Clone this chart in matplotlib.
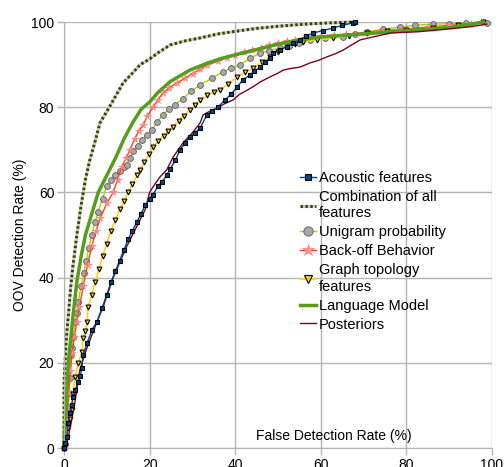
import matplotlib as mpl
mpl.use('Agg')
import matplotlib.pyplot as plt

plt.rcParams['font.family'] = ['Liberation Sans', 'DejaVu Sans']
FONTSIZE = 10

# Data
acoustic_x = [0, 0.3, 0.7, 1.0, 1.4, 1.8, 2.1, 2.6, 3.3, 3.8, 4.2, 4.4, 5.4, 6.5, 7.7, 8.9, 10, 11, 12, 13,
              14, 15, 16, 17, 18, 19, 20, 20.8, 22, 22.9, 24, 24.8, 26, 27.1, 28.2, 29.4, 30.6, 31.8, 33.4, 34.5,
              36, 37.6, 39, 40.4, 41.8, 43.5, 44.5, 45.8, 47, 48.1, 48.8, 50.5, 52.1, 53.5, 55.1, 56.5, 58.2, 60.5,
              62.9, 65, 67.5, 68]
acoustic_y = [0, 1.2, 2.6, 5.9, 8.2, 10, 12, 13.6, 15.5, 17, 18.8, 21.8, 24.6, 27.7, 29.6, 32.9, 36, 39, 41.5, 44,
              46.5, 49, 51, 53, 55, 57, 58.5, 59.5, 61.5, 62.5, 64, 65.5, 67.5, 70, 71.5, 73, 74, 75.1, 78.2, 79,
              80, 81.7, 83, 84.7, 86.4, 87.6, 88.5, 89.4, 90.5, 91.5, 92.7, 93.5, 94.2, 95, 95.8, 96.6, 97.4, 98,
              98.6, 99.2, 99.8, 100]

combination_x = [0, 0, 0.5, 1, 1.5, 2, 3, 4, 5, 6, 7, 8.4, 10, 12, 13.8, 16, 17.8, 20, 22, 24.8, 28, 32, 36, 40,
                 45, 50, 55, 60, 65, 68]
combination_y = [0, 15, 25, 31, 37, 42, 50, 57, 63, 67.5, 71, 76.3, 79, 82.5, 85.7, 88, 90, 91.3, 92.8, 94.6, 95.5,
                 96.3, 97.2, 97.8, 98.5, 99, 99.4, 99.7, 99.9, 100]

unigram_x = [0, 0.2, 0.6, 1, 1.2, 1.4, 1.6, 1.9, 2.1, 2.6, 3, 3.3, 4, 4.6, 5.2, 5.8, 6.5, 7.2, 8, 9, 10, 11, 12, 13,
             14, 14.7, 15.4, 16.1, 17.2, 18.3, 19.4, 20.6, 21.8, 23.1, 24.5, 26, 27.8, 29.6, 31.8, 34.5, 37.2, 39,
             41.1, 43.5, 45.8, 48, 50.5, 52.5, 55, 57.5, 61, 65.2, 68, 70.8, 74.5, 78.5, 82, 86.2, 90, 94, 98.8]
unigram_y = [0, 1, 5, 9.6, 12.9, 16.4, 21.8, 23.5, 26, 29.6, 31.7, 34.3, 38, 41, 44, 47, 50, 53, 55.5, 58.5, 61.5,
             62.8, 64, 65, 66, 66.5, 68, 69.7, 71, 72.3, 73.5, 74.7, 76.5, 78.2, 79.5, 80.6, 82, 83.7, 85.2, 86.8,
             88.3, 89.2, 89.9, 91.5, 92.7, 93.3, 93.9, 94.4, 95, 95.8, 96.2, 96.5, 97.1, 97.7, 98.3, 98.8, 99.2,
             99.5, 99.6, 99.7, 99.8]

backoff_x = [0, 0.3, 0.7, 1.1, 1.5, 1.9, 2.4, 3, 3.6, 4.5, 5.5, 6.5, 7.5, 8.5, 10, 11.5, 12.5, 13.5, 14.5, 15.4,
             16.5, 17.5, 18.5, 19.5, 20.8, 22, 23.1, 24.5, 26.4, 28.2, 30.1, 31.8, 33.4, 36, 38, 40, 42, 44, 46, 48,
             50, 52, 54, 56, 58, 60, 63, 66, 70, 75, 80, 85, 90, 95, 98]
backoff_y = [0, 3, 8, 13, 18, 22.3, 26, 29.6, 33, 38, 43, 47.5, 51, 54, 57.5, 60, 63, 66, 68, 70,
             72.5, 74.5, 75.8, 78, 80, 81.8, 83.3, 84.5, 85.7, 86.8, 87.9, 89, 89.9, 90.8, 91.6, 92.3, 92.9, 93.5,
             94, 94.5, 95, 95.5, 95.8, 96.2, 96.5, 96.7, 96.9, 97.1, 97.5, 98, 98.4, 98.8, 99.2, 99.6, 100]

graph_x = [0, 0.2, 0.6, 1.0, 1.4, 1.8, 2.1, 2.6, 3.3, 4.2, 4.4, 5.0, 5.4, 5.6, 6.5, 7.3, 8.2, 9.0, 10, 11, 12, 13,
           14, 15, 16, 17, 17.8, 18.8, 19.8, 20.8, 22, 23.3, 24.4, 25.5, 26.8, 28, 29.4, 30.6, 31.8, 33.5, 35, 36.4,
           38.4, 40.4, 42.2, 44.2, 46.2, 48.1, 50, 52.1, 53.9, 55.8, 59, 62.9, 66.5, 70.8, 75.5, 80, 86.2, 92, 98]
graph_y = [0, 0.7, 2.5, 4.7, 6.8, 8.9, 12.7, 16.7, 20, 22.5, 25.8, 27.5, 29.6, 33, 36, 39, 42, 45, 48, 51, 53.5,
           56, 58, 60, 62, 64, 65.3, 67.2, 69, 70.7, 72, 73.3, 74.4, 75.4, 76.7, 78, 79.3, 80.5, 81.7, 82.8, 83.5,
           84, 85.5, 87.1, 88.2, 89.2, 90.5, 91.8, 93, 94.2, 94.8, 95.4, 95.8, 96.2, 96.8, 97.4, 97.9, 98.2, 98.6,
           99.2, 100]

lm_x = [0, 0.5, 1, 2, 3, 4, 5, 6.5, 8, 10, 12, 14, 16, 18, 20, 22, 24.8, 27, 29.4, 33.6, 37, 40, 45, 50, 55, 60,
        70, 80, 90, 98]
lm_y = [0, 10, 20, 30, 39, 45, 50, 55, 60, 64, 68, 72.5, 76.3, 79.5, 81.2, 83.5, 86, 87.3, 88.7, 90.4, 91.5, 92.3,
        93.5, 94.8, 95.8, 96.5, 97.2, 98, 98.7, 100]

posteriors_x = [0, 0.7, 1.5, 2.5, 3.7, 5, 6.5, 7.7, 9.1, 10.3, 11.5, 13, 14.5, 16, 17.5, 19, 20, 20.8, 22.4, 24,
                25.5, 27.8, 30, 31.8, 32.5, 34, 35.7, 37.5, 39.5, 41, 42.8, 44.5, 45.8, 48.1, 50, 51.2, 53, 55.1,
                57.5, 59.5, 61.4, 63.5, 65.2, 67, 69.2, 72.2, 76.2, 82.5, 86, 90.2, 95, 98.8]
posteriors_y = [0, 1.2, 5, 10.5, 18.3, 22.5, 26.5, 29.6, 33, 36.5, 40, 43.5, 47, 50, 53, 56, 60, 61.3, 63.6, 65.3,
                68.3, 71.6, 74, 76.3, 78.2, 79, 79.8, 80.8, 81.7, 83, 84, 85, 85.9, 87.1, 88, 88.7, 89.1, 89.4,
                90.4, 91, 91.8, 92.6, 93.4, 94.5, 95.8, 96.5, 97.4, 97.7, 98, 98.4, 98.9, 99.5]

ticks = [0, 20, 40, 60, 80, 100]

fig = plt.figure(figsize=(5.04, 4.67), dpi=100)
subplot = fig.add_axes([64 / 504, 1 - 448 / 467, 428 / 504, 426 / 467])

subplot.plot(acoustic_x, acoustic_y, color="#004586", lw=1, marker="s", ms=3, mfc="#004586", mec="black",
             mew=0.8, label="Acoustic features", clip_on=False, zorder=5)
subplot.plot(combination_x, combination_y, color="#314004", gapcolor="#c9cdb5", lw=2.2, ls=(0, (0.8, 0.8)),
             label="Combination of all\nfeatures", clip_on=False)
subplot.plot(unigram_x, unigram_y, color="#aecf00", lw=1, marker="o", ms=4.2, mfc="#a8a8a8", mec="#5a5a5a",
             mew=0.6, label="Unigram probability", clip_on=False)
subplot.plot(backoff_x, backoff_y, color="#ff420e", lw=1, marker="*", ms=5.5, mfc="#ff9090", mec="#ff7070",
             mew=0.4, label="Back-off Behavior", clip_on=False)
subplot.plot(graph_x, graph_y, color="#ffd320", lw=1.2, marker="v", ms=3.5, mfc="#ffd320", mec="black",
             mew=0.8, label="Graph topology\nfeatures", clip_on=False)
subplot.plot(lm_x, lm_y, color="#579d1c", lw=2.5, label="Language Model", clip_on=False)
subplot.plot(posteriors_x, posteriors_y, color="#7e0021", lw=1, label="Posteriors", clip_on=False)

# Parameters
subplot.set_xlim(0, 100)
subplot.set_ylim(0, 100)
subplot.set_xticks(ticks)
subplot.set_yticks(ticks)
subplot.grid(color="#b3b3b3", lw=1)
subplot.set_axisbelow(True)
for side in ["top", "right"]:
    subplot.spines[side].set_visible(False)
for side in ["left", "bottom"]:
    subplot.spines[side].set_color("#b3b3b3")
subplot.tick_params(colors="#b3b3b3", labelcolor="black", length=5, width=1, pad=2, labelsize=FONTSIZE)

subplot.set_xlabel("False Detection Rate (%)", fontsize=FONTSIZE)
subplot.xaxis.set_label_coords(0.63, 0.045)
subplot.set_ylabel("OOV Detection Rate (%)", fontsize=FONTSIZE)
subplot.yaxis.set_label_coords(-0.087, 0.5)

legend = fig.legend(loc="upper left", bbox_to_anchor=(300 / 504, 1 - 171 / 467), frameon=False, fontsize=10.5,
                    borderpad=0, borderaxespad=0, handlelength=1.1, handletextpad=0.2, labelspacing=0.34)
for text in legend.get_texts():
    text.set_linespacing(1.22)
for handle in legend.legend_handles:
    if handle.get_marker() not in (None, "None", ""):
        handle.set_markersize(handle.get_markersize() * 1.6)

fig.savefig("out.png", dpi=100)
